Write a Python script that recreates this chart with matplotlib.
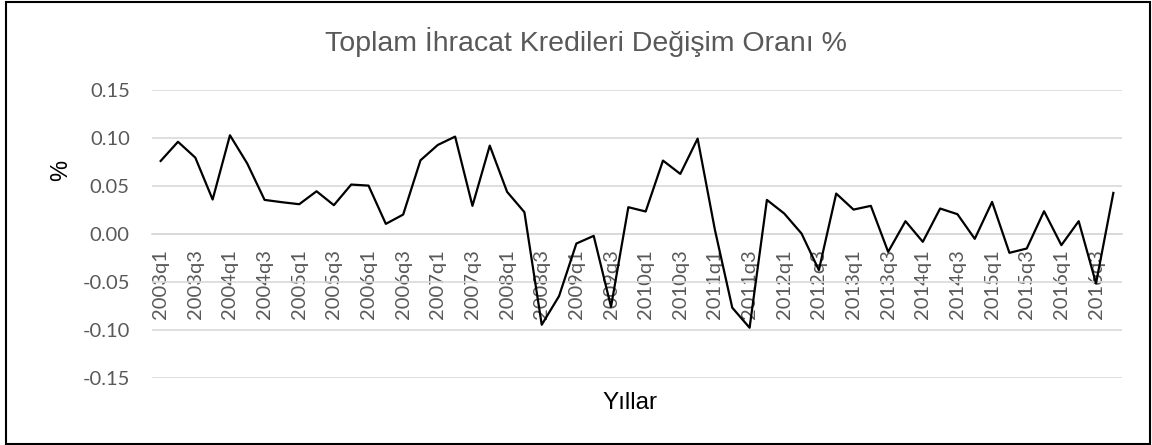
import numpy as np
import matplotlib.pyplot as plt
from matplotlib.patches import Rectangle

# quarterly change ratio, 2003q1 - 2016q4
years = list(range(2003, 2017))
quarters = [f"{y}q{q}" for y in years for q in range(1, 5)]
degisim = [
    0.076, 0.096, 0.0795, 0.0358,   # 2003
    0.1028, 0.0733, 0.0354, 0.033,  # 2004
    0.0309, 0.0444, 0.0299, 0.0514, # 2005
    0.0503, 0.0104, 0.0201, 0.0767, # 2006
    0.0927, 0.1014, 0.0292, 0.092,  # 2007
    0.0438, 0.0226, -0.0948, -0.0649, # 2008
    -0.0101, -0.0021, -0.076, 0.0278, # 2009
    0.0233, 0.0764, 0.0625, 0.0993, # 2010
    0.004, -0.077, -0.0979, 0.0354, # 2011
    0.0212, 0.0003, -0.0378, 0.042, # 2012
    0.0253, 0.0292, -0.0188, 0.0132, # 2013
    -0.0083, 0.0264, 0.0205, -0.0052, # 2014
    0.0333, -0.0198, -0.0153, 0.0236, # 2015
    -0.0118, 0.0132, -0.0517, 0.0427, # 2016
]
y_ticks = [-0.15, -0.10, -0.05, 0.00, 0.05, 0.10, 0.15]

baslik = "Toplam İhracat Kredileri Değişim Oranı %"
x_baslik = "Yıllar"
y_baslik = "%"

gray = "#595959"
grid_gray = "#d9d9d9"

fig = plt.figure(figsize=(11.52, 4.45), dpi=100)
ax = fig.add_axes([152 / 1152, 1 - 377.7 / 445, 970 / 1152, 287.7 / 445])

x = np.arange(len(quarters))
ax.plot(x, degisim, color="black", lw=1.6, zorder=3)

ax.set_xlim(-0.5, len(quarters) - 0.5)
ax.set_ylim(-0.15, 0.15)
ax.set_yticks(y_ticks)
ax.set_yticklabels([f"{v:.2f}" for v in y_ticks], family="Lato", fontsize=14.5, color=gray)
ax.yaxis.grid(True, color=grid_gray, lw=1.2)
ax.set_axisbelow(True)
ax.tick_params(axis="y", length=0, pad=16)

# category axis crosses at zero
for s in ["top", "right", "left"]:
    ax.spines[s].set_visible(False)
ax.spines["bottom"].set_position(("data", 0))
ax.spines["bottom"].set_color(grid_gray)
ax.spines["bottom"].set_linewidth(1.2)
ax.set_xticks(x[::2])
ax.set_xticklabels(quarters[::2], rotation=90, family="Lato", fontsize=14.5, color=gray)
ax.tick_params(axis="x", length=0, pad=11)

fig.text(586 / 1152, 1 - 42 / 445, baslik, ha="center", va="center", family="Liberation Sans",
         fontsize=20.5, color=gray)
fig.text(630 / 1152, 1 - 403 / 445, x_baslik, ha="center", va="center", family="Liberation Sans",
         fontsize=17.5, color="black")
fig.text(61 / 1152, 1 - 170 / 445, y_baslik, ha="center", va="center", rotation=90,
         family="Liberation Sans", fontsize=17, color="black")

fig.patches.append(Rectangle((6 / 1152, 1 / 445), 1144 / 1152, 442 / 445, transform=fig.transFigure,
                             fill=False, edgecolor="black", lw=1.5))

fig.savefig("out.png", dpi=100)
